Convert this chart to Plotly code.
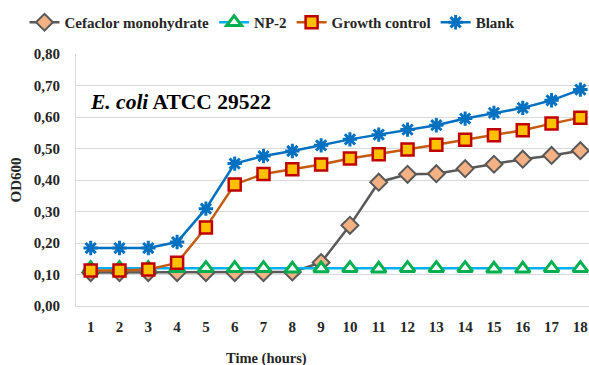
import plotly.graph_objects as go

hours = list(range(1, 19))
cefaclor = [0.106, 0.106, 0.106, 0.106, 0.106, 0.106, 0.106, 0.108, 0.138, 0.256, 0.393,
            0.418, 0.420, 0.436, 0.450, 0.466, 0.478, 0.493]
np2 = [0.120, 0.120, 0.120, 0.120, 0.120, 0.120, 0.120, 0.118, 0.119, 0.120, 0.118,
       0.120, 0.120, 0.120, 0.118, 0.118, 0.120, 0.120]
growth = [0.113, 0.113, 0.116, 0.137, 0.249, 0.386, 0.419, 0.434, 0.449, 0.468, 0.482,
          0.497, 0.512, 0.528, 0.542, 0.558, 0.579, 0.598]
blank = [0.184, 0.184, 0.184, 0.203, 0.309, 0.452, 0.476, 0.492, 0.510, 0.529, 0.544,
         0.560, 0.574, 0.595, 0.613, 0.629, 0.653, 0.687]
y_ticks = [0.0, 0.1, 0.2, 0.3, 0.4, 0.5, 0.6, 0.7, 0.8]

FONT = "Liberation Serif"

fig = go.Figure()
fig.add_trace(go.Scatter(
    x=hours, y=cefaclor, name="Cefaclor monohydrate", mode="lines+markers",
    line=dict(color="#595959", width=2.5),
    marker=dict(symbol="diamond", size=13, color="#F4B183",
                line=dict(color="#595959", width=2))))
fig.add_trace(go.Scatter(
    x=hours, y=np2, name="NP-2", mode="lines+markers",
    line=dict(color="#00B0F0", width=2.5),
    marker=dict(symbol="triangle-up", size=13, color="white",
                line=dict(color="#00B050", width=3))))
fig.add_trace(go.Scatter(
    x=hours, y=growth, name="Growth control", mode="lines+markers",
    line=dict(color="#C55A11", width=2.5),
    marker=dict(symbol="square", size=12, color="#FFC000",
                line=dict(color="#C00000", width=2.5))))
fig.add_trace(go.Scatter(
    x=hours, y=blank, name="Blank", mode="lines+markers",
    line=dict(color="#0070C0", width=2.5),
    marker=dict(symbol="asterisk-open", size=12, color="#0070C0",
                line=dict(color="#0070C0", width=3))))

fig.update_layout(
    width=589, height=365,
    margin=dict(l=76, r=0, t=53.5, b=59.3),
    paper_bgcolor="white", plot_bgcolor="white",
    separators=",.",
    font=dict(family=FONT, size=13, color="#262626"),
    showlegend=True,
    legend=dict(orientation="h", x=0.383, xanchor="center", y=1.125, yanchor="middle",
                font=dict(family=FONT, size=15, color="#262626", weight="bold"),
                bgcolor="rgba(0,0,0,0)", itemwidth=30, tracegroupgap=0),
    xaxis=dict(range=[0.49, 18.3], tickmode="array", tickvals=hours,
               ticktext=[str(h) for h in hours], showgrid=False, zeroline=False,
               showline=True, linecolor="#D9D9D9", linewidth=1, ticks="",
               ticklabelstandoff=7,
               tickfont=dict(family=FONT, size=15, color="#262626", weight="bold")),
    yaxis=dict(range=[0, 0.8], tickmode="array", tickvals=y_ticks,
               tickformat=".2f", showgrid=True, gridcolor="#D9D9D9", gridwidth=1,
               zeroline=False, showline=True, linecolor="#D9D9D9", linewidth=1,
               ticks="", ticklabelstandoff=12,
               tickfont=dict(family=FONT, size=15, color="#262626", weight="bold"),
               title=dict(text="OD600", standoff=8,
                          font=dict(family=FONT, size=15, color="#262626", weight="bold"))),
    annotations=[
        dict(text="Time (hours)", xref="paper", yref="paper", x=0.372, y=-0.207,
             showarrow=False, xanchor="center", yanchor="middle",
             font=dict(family=FONT, size=14.5, color="#262626", weight="bold")),
        dict(text="<i>E. coli</i> ATCC 29522", xref="paper", yref="paper",
             x=0.0235, y=0.809, showarrow=False, xanchor="left", yanchor="middle",
             font=dict(family=FONT, size=21.5, color="black", weight="bold")),
    ],
)

fig.write_html("out.html")
